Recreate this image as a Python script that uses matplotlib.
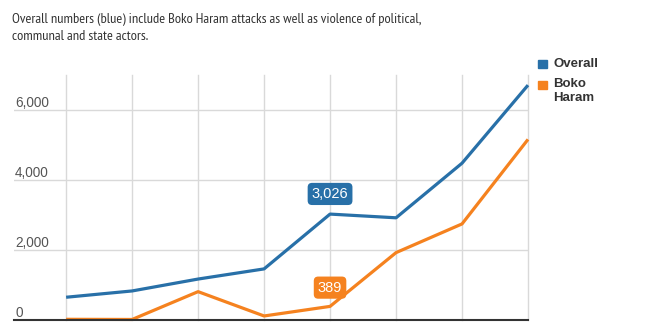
import matplotlib.pyplot as plt
import matplotlib.transforms as mtransforms

plt.rcParams['font.family'] = ['Liberation Sans', 'DejaVu Sans']

# values (8 yearly points, no visible x labels)
points = list(range(8))
overall = [650, 830, 1170, 1460, 3026, 2920, 4480, 6710]
boko_haram = [20, 15, 810, 115, 389, 1925, 2745, 5160]
y_ticks = [0, 2000, 4000, 6000]
tick_labels = ['0', '2,000', '4,000', '6,000']

blue = '#2870a8'
orange = '#f5821f'
grid_col = '#d9d9d9'
text_col = '#333333'

W, H = 647, 330
fig = plt.figure(figsize=(W / 100, H / 100), dpi=100)
# axes box in pixels: left 14, right 528, top 75, bottom 320
ax = fig.add_axes([14 / W, (H - 320) / H, (528 - 14) / W, (320 - 75) / H])
ax.set_xlim(-0.79, 7)
ax.set_ylim(0, 7000)
for s in ax.spines.values():
    s.set_visible(False)
ax.set_xticks([])
ax.set_yticks([])

for x in points:
    ax.axvline(x, color=grid_col, lw=1, zorder=1, clip_on=False)
for y in y_ticks[1:]:
    ax.axhline(y, color=grid_col, lw=1, zorder=1)
ax.axhline(0, color=text_col, lw=1.5, zorder=4, clip_on=False)

trans = mtransforms.blended_transform_factory(ax.transAxes, ax.transData)
for y, lab in zip(y_ticks, tick_labels):
    ax.text(0.002, y + 200, lab, transform=trans, ha='left', va='center',
            fontsize=9.8, color='#555555')

ax.plot(points, overall, color=blue, lw=2.3, zorder=3, solid_capstyle='butt',
        clip_on=False)
ax.plot(points, boko_haram, color=orange, lw=2.3, zorder=3,
        solid_capstyle='butt', clip_on=False)

# value callouts
ax.annotate('3,026', (points[4], overall[4]), xytext=(0, 14.5), textcoords='offset points',
            ha='center', va='center', fontsize=10.5, color='white', zorder=5,
            bbox=dict(boxstyle='round,pad=0.28,rounding_size=0.3', fc=blue, ec='none'))
ax.annotate('389', (points[4], boko_haram[4]), xytext=(0, 13.5), textcoords='offset points',
            ha='center', va='center', fontsize=10.5, color='white', zorder=5,
            bbox=dict(boxstyle='round,pad=0.28,rounding_size=0.3', fc=orange, ec='none'))

# subtitle (narrow face, like the reference)
fig.text(12 / W, 1 - 13 / H,
         'Overall numbers (blue) include Boko Haram attacks as well as violence of political,\n'
         'communal and state actors.',
         ha='left', va='top', fontsize=10.4,
         family=['PT Sans Narrow', 'Liberation Sans'], color=text_col,
         linespacing=1.4)

# legend
fig.patches.append(plt.Rectangle((538 / W, 1 - 68 / H), 8.5 / W, 8.5 / H, color=blue,
                                 transform=fig.transFigure, figure=fig))
fig.patches.append(plt.Rectangle((538 / W, 1 - 89 / H), 8.5 / W, 8.5 / H, color=orange,
                                 transform=fig.transFigure, figure=fig))
fig.text(553 / W, 1 - 64 / H, 'Overall', ha='left', va='center', fontsize=9.5,
         color=text_col, fontweight='bold')
fig.text(553 / W, 1 - 78 / H, 'Boko\nHaram', ha='left', va='top', fontsize=9.5,
         color=text_col, fontweight='bold', linespacing=1.25)

fig.savefig('out.png', dpi=100)
